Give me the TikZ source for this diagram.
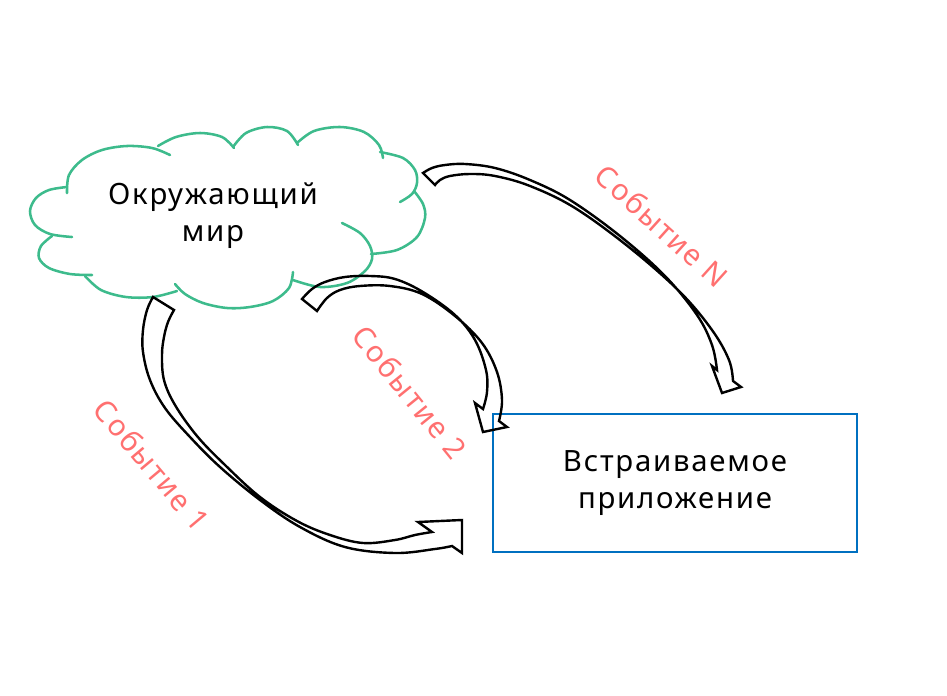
\documentclass[tikz,border=0pt]{standalone}
\usepackage{fontspec}
\setmainfont{Noto Sans}[LetterSpace=6]
\definecolor{cloudgreen}{RGB}{61,187,140}
\definecolor{boxblue}{RGB}{0,112,192}
\definecolor{evred}{RGB}{255,112,112}
\begin{document}
\begin{tikzpicture}[x=0.75pt,y=-0.75pt,
  cloudline/.style={draw=cloudgreen,line width=1.9pt,line cap=round},
  blockarrow/.style={draw=black,line width=1.8pt,line join=miter},
  maintext/.style={align=center,font=\fontsize{22}{27.75}\selectfont,text=black,inner sep=0pt},
  appbox/.style={draw=boxblue,line width=1.9pt,minimum width=273pt,minimum height=103.5pt,inner sep=0pt,align=center,font=\fontsize{22}{27.75}\selectfont},
  evlabel/.style={text=evred,font=\fontsize{22}{26}\selectfont,inner sep=0pt}]
\useasboundingbox (0,0) rectangle (947,696);

% cloud
\draw[cloudline] plot[smooth,tension=0.55] coordinates {(67,193) (69,175) (82,160) (102,150) (127,146) (152,148) (170,155)};
\draw[cloudline] plot[smooth,tension=0.55] coordinates {(158,146) (176,137) (200,133) (222,137) (234,148)};
\draw[cloudline] plot[smooth,tension=0.55] coordinates {(233,147) (246,133) (267,127) (287,131) (298,145)};
\draw[cloudline] plot[smooth,tension=0.55] coordinates {(297,143) (314,131) (340,127) (364,132) (379,145) (383,158)};
\draw[cloudline] plot[smooth,tension=0.55] coordinates {(380,152) (403,158) (415,170) (417,183) (412,194) (400,202)};
\draw[cloudline] plot[smooth,tension=0.55] coordinates {(414,191) (423,204) (425,218) (417,237) (397,250) (371,254)};
\draw[cloudline] plot[smooth,tension=0.55] coordinates {(342,223) (360,233) (370,246) (372,259) (365,271) (347,283) (320,287) (293,280)};
\draw[cloudline] plot[smooth,tension=0.55] coordinates {(293,272) (289,288) (273,301) (250,307) (227,308) (203,303) (185,294) (175,284)};
\draw[cloudline] plot[smooth,tension=0.55] coordinates {(85,276) (101,290) (126,297) (153,297) (177,291)};
\draw[cloudline] plot[smooth,tension=0.55] coordinates {(52,236) (41,246) (39,258) (49,268) (70,274) (92,275)};
\draw[cloudline] plot[smooth,tension=0.55] coordinates {(67,187) (49,190) (36,198) (30,211) (35,225) (50,234) (72,237)};
\node[maintext] (world) at (213,216) {Окружающий\\мир};

% application box
\node[appbox] (app) at (675,483) {Встраиваемое\\приложение};

% arrow N
\draw[blockarrow] plot[smooth,tension=0.6] coordinates {(423,173) (432,168) (445,165) (465,164) (495,168) (530,180) (570,200) (620,236) (665,276) (697,315) (712,345) (717,370)}
  -- (712,366) -- (722,393) -- (741,387) --
  plot[smooth,tension=0.6] coordinates {(733,381) (729,360) (712,330) (680,292) (630,248) (575,208) (530,186) (495,176) (470,174) (450,176) (440,180) (435,185)} -- cycle;

% arrow 2
\draw[blockarrow] plot[smooth,tension=0.6] coordinates {(302,299) (312,289) (325,282) (345,277) (370,276) (395,279) (423,292) (455,315) (475,340) (486,370) (487,392) (483,409)}
  -- (475,403) -- (483,432) -- (507,427) --
  plot[smooth,tension=0.6] coordinates {(499,421) (502,400) (497,372) (482,343) (455,316) (422,294) (390,286) (360,286) (340,290) (327,298) (317,311)} -- cycle;

% arrow 1
\draw[blockarrow] plot[smooth,tension=0.6] coordinates {(153,297) (147,310) (143,330) (143,352) (150,380) (165,408) (190,437) (220,467) (260,500) (300,527) (345,547) (395,553) (435,549) (452,546)}
  -- (462,553) -- (462,520) -- (418,522) --
  plot[smooth,tension=0.6] coordinates {(432,532) (415,535) (395,540) (363,543) (330,535) (297,521) (260,497) (225,465) (197,436) (175,405) (164,380) (162,355) (164,337) (168,322) (174,310)} -- cycle;

% labels
\node[evlabel,rotate=-42] (evN) at (662,226) {Событие N};
\node[evlabel,rotate=-51] (ev2) at (410,392) {Событие 2};
\node[evlabel,rotate=-50] (ev1) at (152,465) {Событие 1};
\end{tikzpicture}
\end{document}
